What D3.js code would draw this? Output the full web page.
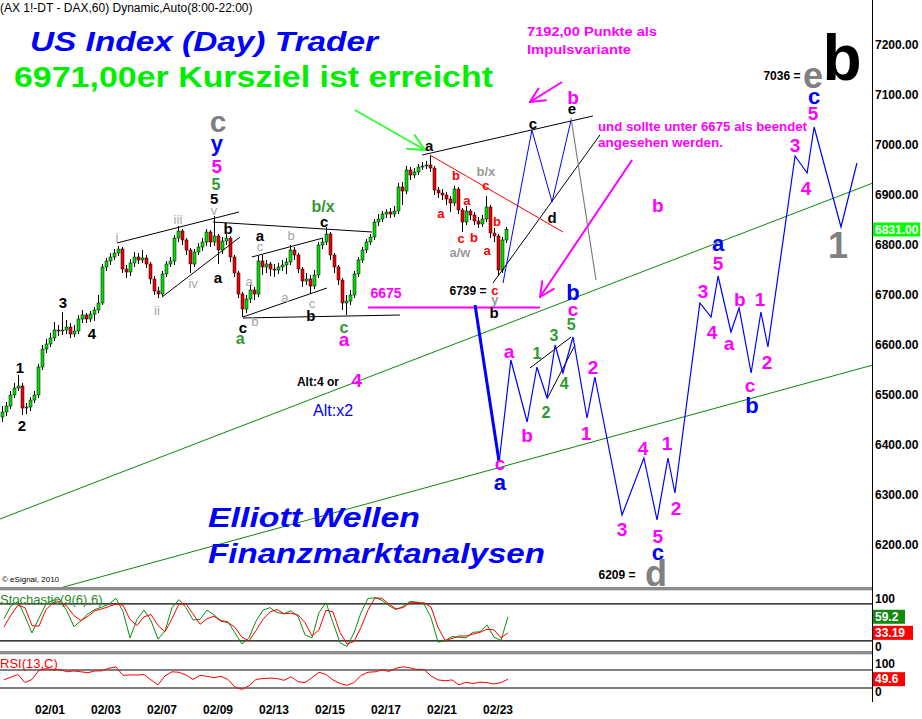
<!DOCTYPE html>
<html><head><meta charset="utf-8">
<script src="https://cdn.jsdelivr.net/npm/d3@7"></script>
<style>
html,body{margin:0;padding:0;background:#fff;}
svg{display:block;font-family:Arial,"Liberation Sans",sans-serif;}
</style>
</head><body>
<svg id="chart" width="922" height="719"></svg>
<script>
// ---- DAX 60-min bars (2-hour sampling), times in trading-day units ----
const barStart = -5 / 7;
const barStep = 1 / 7;
const firstOpen = 6456;
const closes = [
 6466,6478,6500,6514,6518,6474,6476,6490,6500,6556,
 6592,6602,6614,6630,6628,6630,6636,6622,6628,6652,
 6660,6652,6662,6670,6684,6756,6768,6776,6784,6792,
 6752,6746,6764,6776,6770,6774,6762,6732,6708,6702,
 6742,6762,6768,6814,6828,6810,6790,6762,6786,6796,
 6806,6826,6806,6818,6790,6808,6814,6776,6744,6702,
 6672,6692,6710,6702,6768,6756,6762,6752,6750,6756,
 6760,6766,6790,6780,6752,6728,6732,6718,6740,6800,
 6806,6822,6780,6756,6730,6684,6688,6700,6742,6770,
 6790,6806,6816,6846,6852,6862,6866,6862,6868,6916,
 6908,6950,6940,6946,6956,6958,6960,6954,6910,6904,
 6900,6892,6884,6912,6870,6846,6868,6860,6848,6842,
 6852,6876,6824,6818,6750,6810,6831];
const highs = [
 6478,6486,6508,6524,6540,6524,6484,6496,6508,6562,
 6600,6612,6624,6646,6640,6666,6650,6644,6640,6660,
 6670,6664,6668,6676,6700,6762,6774,6784,6792,6798,
 6796,6760,6772,6786,6784,6790,6780,6766,6738,6716,
 6748,6768,6776,6820,6838,6832,6814,6794,6792,6804,
 6814,6832,6830,6858,6822,6816,6822,6818,6780,6748,
 6706,6700,6722,6716,6778,6780,6770,6766,6762,6764,
 6770,6774,6800,6796,6784,6756,6744,6740,6750,6806,
 6814,6836,6826,6784,6760,6734,6700,6710,6748,6776,
 6796,6812,6822,6852,6862,6868,6872,6874,6878,6924,
 6926,6958,6956,6954,6962,6966,6968,6980,6958,6916,
 6912,6906,6898,6918,6916,6874,6878,6872,6866,6856,
 6860,6898,6880,6834,6822,6816,6836];
const lows = [
 6446,6458,6472,6494,6508,6460,6462,6468,6484,6494,
 6550,6584,6596,6608,6618,6620,6622,6614,6616,6622,
 6644,6644,6646,6648,6664,6680,6748,6760,6770,6778,
 6744,6734,6738,6756,6762,6764,6754,6722,6700,6694,
 6698,6736,6756,6760,6806,6800,6780,6744,6756,6780,
 6788,6798,6796,6798,6762,6782,6800,6766,6736,6694,
 6656,6664,6684,6690,6696,6740,6744,6738,6736,6742,
 6748,6742,6760,6770,6744,6716,6720,6702,6712,6734,
 6792,6800,6770,6744,6720,6670,6660,6680,6694,6736,
 6764,6784,6800,6810,6838,6846,6854,6854,6856,6862,
 6880,6902,6930,6934,6940,6950,6952,6946,6900,6894,
 6890,6880,6866,6878,6862,6826,6840,6850,6840,6834,
 6836,6846,6814,6806,6739,6744,6804];

// ---- indicators, sampled every quarter day ----
const indStart = -0.643;
const indStep = 0.25;
const stochK = [56,77,84,60,33,57,80,86,87,68,43,53,64,71,75,80,89,68,25,55,
 70,53,23,36,74,87,74,54,55,70,62,53,51,33,15,25,52,70,74,66,
 64,69,60,30,25,66,82,50,17,11,33,66,89,90,86,77,71,76,84,83,
 80,58,18,20,27,26,25,34,35,46,26,21,59.2];
const stochD = [43,62,78,74,45,44,71,82,84,76,61,53,60,69,72,76,80,78,55,45,
 59,63,45,35,56,80,80,64,47,56,60,52,50,42,26,20,37,55,67,71,
 64,65,62,50,28,38,70,67,34,15,19,42,70,90,89,80,72,74,82,82,
 82,75,42,21,24,28,28,31,34,39,38,25,33.19];
const rsi = [48.5,54,60,42,49,70,73,71,71,66,68,66,64,68,68,74,77,58,59,59,
 60,48,37,57,66,65,59,49,58,56,53,56,49,32,27,35,49,51,52,51,
 47,55,44,42,53,65,60,48,40,36,42,58,65,66,70,67,74,77,75,71,
 71,57,48,46,48,37,43,40,43,42,39,42,49.6];

// ---- axes ----
const dayTicks = [1,3,5,7,9,11,13,15,17];
const dayLabels = ["02/01","02/03","02/07","02/09","02/13","02/15","02/17","02/21","02/23"];
const priceTicks = [6200,6300,6400,6500,6600,6700,6800,6900,7000,7100,7200];
const lastPrice = 6831;
const stochLevels = [20,80];
const rsiLevels = [30,70];

// ---- Elliott wave projections [day, price] ----
const triangleWave = [[17.18,6724],[18.21,7030],[18.93,6886],[19.61,7050]];
const triangleDrop = [[19.61,7054],[20.5,6730]];
const impulseDrop = [[16.18,6680],[17.04,6366]];
const forecastWave = [
 [17.04,6366],[17.46,6570],[18.04,6446],[18.39,6556],[18.75,6494],[19.04,6600],
 [19.32,6544],[19.68,6616],[20.18,6454],[20.46,6536],[21.43,6260],[22.21,6374],
 [22.68,6250],[23.07,6374],[23.32,6304],[24.21,6684],[24.61,6656],[24.86,6738],
 [25.32,6626],[25.61,6674],[26.04,6544],[26.39,6666],[26.64,6596],[27.61,6978],
 [28.04,6944],[28.29,7036],[29.25,6836],[29.82,6964]];

// ---- trend lines ----
const blackLines = [
 [[3.39,6804],[7.75,6866]],
 [[5.0,6696],[7.79,6816]],
 [[6.82,6846],[12.5,6826]],
 [[8.21,6776],[10.75,6814]],
 [[7.89,6656],[10.89,6714]],
 [[7.89,6654],[13.5,6660]],
 [[14.29,6980],[20.39,7058]],
 [[16.82,6724],[20.64,7020]],
 [[18.14,6554],[19.61,6616]],
 [[18.75,6492],[19.75,6600]]];
const redLine = [[14.57,6980],[19.32,6826]];
const channelUpper = [[-0.79,6252],[30.39,6924]];
const channelLower = [[-0.79,6081],[30.39,6560]];
const invalidLevel = [[12.36,6675],[18.5,6675]];
const magentaArrows = [
 [[19.29,7126],[18.14,7086]],
 [[21.79,6970],[18.5,6696]]];
const greenArrow = [[11.89,7070],[14.39,6990]];

// ---- wave labels: text, day, price, style ----
const waveLabels = [
 ["1",-0.07,6556,"blk"],["2",0,6440,"blk"],["3",1.46,6686,"blk"],["4",2.5,6624,"blk"],
 ["i",3.39,6816,"rom"],["ii",4.82,6670,"rom"],["iii",5.57,6852,"rom"],["iv",6.11,6724,"rom"],["v",6.86,6870,"rom"],
 ["5",6.86,6894,"blk"],["5",6.93,6922,"grn"],["5",6.96,6958,"mag"],["y",6.96,7004,"blu"],["c",7.0,7048,"gryM"],
 ["b",7.36,6834,"blk"],["a",7.0,6736,"blk"],["c",7.89,6636,"blk"],["a",7.79,6614,"grn"],
 ["a",8.5,6820,"blk"],["c",8.5,6798,"rom"],["b",9.61,6820,"rom"],["a",8.11,6728,"rom"],
 ["b",8.32,6648,"rom"],["a",9.39,6696,"rom"],["c",10.36,6684,"rom"],["b",10.32,6660,"blk"],
 ["b/x",10.75,6878,"grn"],["c",10.79,6848,"blk"],["c",11.5,6636,"grn"],["a",11.5,6612,"mag"],
 ["a",14.54,7000,"blk"],["b",15.5,6940,"red"],["a",14.96,6864,"red"],["a",15.89,6890,"red"],
 ["c",15.68,6814,"red"],["b",16.14,6816,"red"],["a/w",15.64,6786,"gryS"],["b/x",16.57,6948,"gryS"],
 ["c",16.57,6920,"red"],["b",16.96,6848,"red"],["a",16.61,6790,"red"],
 ["c",18.25,7044,"blk"],["d",18.93,6856,"blk"],["e",19.64,7074,"blk"],
 ["c",16.89,6710,"red"],["y",16.89,6692,"gryS"],["b",16.86,6666,"blk"],
 ["b",19.68,6706,"blu"],["c",19.68,6672,"mag"],["b",19.68,7096,"mag"],
 ["a",17.39,6588,"mag"],["b",18.04,6420,"mag"],
 ["1",18.39,6584,"grn"],["2",18.71,6466,"grn"],["3",19.0,6620,"grn"],["4",19.36,6524,"grn"],["5",19.61,6642,"grn"],
 ["2",20.39,6556,"mag"],["1",20.14,6424,"mag"],["3",21.43,6232,"mag"],["4",22.18,6394,"mag"],
 ["5",22.71,6218,"mag"],["c",22.71,6186,"blu"],["d",22.64,6144,"gryL"],
 ["1",23.04,6404,"mag"],["2",23.36,6274,"mag"],["c",17.07,6364,"mag"],["a",17.07,6326,"blu"],
 ["3",24.32,6708,"mag"],["4",24.64,6626,"mag"],["a",25.25,6604,"mag"],["b",25.64,6692,"mag"],
 ["1",26.36,6692,"mag"],["2",26.61,6566,"mag"],["c",26.0,6520,"mag"],["b",26.07,6480,"blu"],
 ["a",24.86,6804,"blu"],["5",24.86,6764,"mag"],
 ["3",27.61,7000,"mag"],["4",28.0,6914,"mag"],["5",28.25,7064,"mag"],["c",28.29,7098,"blu"],
 ["e",28.25,7140,"gryL"],["b",29.29,7174,"huge"],["1",29.14,6800,"gryL"],
 ["b",22.71,6880,"mag"],
 ["6739 =",15.93,6708,"blkS"],["6209 =",21.25,6140,"blkS"],["7036 =",27.14,7138,"blkS"],
 ["6675",13.0,6704,"magS"],
 ["Alt:4 or",10.57,6526,"blkS"],["4",11.96,6530,"mag"],["Alt:x2",11.11,6470,"bluS"]];

const labelStyle = {
 blk:{fill:"#000",size:15,weight:"bold"},
 blkS:{fill:"#000",size:12,weight:"bold"},
 rom:{fill:"#a6a6a6",size:13,weight:"normal"},
 red:{fill:"#ff0000",size:13,weight:"bold"},
 grn:{fill:"#2f9a2f",size:16,weight:"bold"},
 mag:{fill:"#ff00ff",size:19,weight:"bold"},
 magS:{fill:"#ff00ff",size:14,weight:"bold"},
 blu:{fill:"#0000ff",size:22,weight:"bold"},
 bluS:{fill:"#0000ff",size:16,weight:"normal"},
 gryS:{fill:"#999999",size:13,weight:"bold"},
 gryM:{fill:"#808080",size:30,weight:"bold"},
 gryL:{fill:"#808080",size:36,weight:"bold"},
 huge:{fill:"#000",size:64,weight:"bold"}
};

// ---- layout ----
const axisX = 872;
const mainBottom = 587;
const svg = d3.select("#chart");
const x = d3.scaleLinear().domain([0, 30]).range([22, 862]);
const y = d3.scaleLinear().domain([6200, 7200]).range([545, 45]);
const yS = d3.scaleLinear().domain([0, 100]).range([653.3, 591.6]);
const yR = d3.scaleLinear().domain([0, 100]).range([701.5, 656.5]);
const line = d3.line().x(d => x(d[0])).y(d => y(d[1]));

svg.append("rect").attr("width", 922).attr("height", 719).attr("fill", "#fff");

const defs = svg.append("defs");
defs.append("clipPath").attr("id", "mainClip")
  .append("rect").attr("x", 0).attr("y", 0).attr("width", axisX).attr("height", mainBottom);

const main = svg.append("g").attr("clip-path", "url(#mainClip)");

// channel lines
[channelUpper, channelLower].forEach(l =>
  main.append("path").attr("d", line(l)).attr("stroke", "#0a8a0a").attr("stroke-width", 1).attr("fill", "none"));

// candles
const bars = closes.map((c, i) => ({
  t: barStart + i * barStep,
  o: i === 0 ? firstOpen : closes[i - 1],
  c, h: highs[i], l: lows[i]
}));
const candle = main.append("g");
candle.selectAll("line.wick").data(bars).join("line")
  .attr("x1", d => Math.round(x(d.t)) + 0.5).attr("x2", d => Math.round(x(d.t)) + 0.5)
  .attr("y1", d => y(d.h)).attr("y2", d => y(d.l))
  .attr("stroke", "#000").attr("stroke-width", 1);
candle.selectAll("rect").data(bars).join("rect")
  .attr("x", d => Math.round(x(d.t)) - 1)
  .attr("y", d => y(Math.max(d.o, d.c)))
  .attr("width", 3)
  .attr("height", d => Math.max(1, Math.abs(y(d.o) - y(d.c))))
  .attr("fill", d => d.c >= d.o ? "#00e000" : "#f00000")
  .attr("stroke", "#000").attr("stroke-width", 0.5);

// trend lines
blackLines.forEach(l => main.append("path").attr("d", line(l))
  .attr("stroke", "#000").attr("stroke-width", 1).attr("fill", "none"));
main.append("path").attr("d", line(redLine)).attr("stroke", "#ff0000").attr("stroke-width", 1).attr("fill", "none");
main.append("path").attr("d", line(triangleDrop)).attr("stroke", "#808080").attr("stroke-width", 1.2).attr("fill", "none");
main.append("path").attr("d", line(invalidLevel)).attr("stroke", "#ff00ff").attr("stroke-width", 2).attr("fill", "none");

// projected waves
main.append("path").attr("d", line(triangleWave)).attr("stroke", "#0000ff").attr("stroke-width", 1).attr("fill", "none");
main.append("path").attr("d", line(impulseDrop)).attr("stroke", "#0000ff").attr("stroke-width", 3).attr("fill", "none");
main.append("path").attr("d", line(forecastWave)).attr("stroke", "#0000ff").attr("stroke-width", 1.2)
  .attr("fill", "none").attr("stroke-linejoin", "miter");

// arrows with open V heads
function arrow(pts, color, width, head) {
  main.append("path").attr("d", line(pts)).attr("stroke", color).attr("stroke-width", width).attr("fill", "none");
  const x0 = x(pts[0][0]), y0 = y(pts[0][1]), x1 = x(pts[1][0]), y1 = y(pts[1][1]);
  const a = Math.atan2(y1 - y0, x1 - x0);
  [0.45, -0.45].forEach(da => {
    main.append("line")
      .attr("x1", x1).attr("y1", y1)
      .attr("x2", x1 - head * Math.cos(a + da)).attr("y2", y1 - head * Math.sin(a + da))
      .attr("stroke", color).attr("stroke-width", width).attr("stroke-linecap", "round");
  });
}
magentaArrows.forEach(p => arrow(p, "#ff00ff", 2, 16));
arrow(greenArrow, "#33ff33", 2, 18);

// wave labels
svg.append("g").selectAll("text").data(waveLabels).join("text")
  .attr("x", d => x(d[1])).attr("y", d => y(d[2]))
  .attr("text-anchor", "middle").attr("dominant-baseline", "central")
  .attr("fill", d => labelStyle[d[3]].fill)
  .attr("font-size", d => labelStyle[d[3]].size)
  .attr("font-weight", d => labelStyle[d[3]].weight)
  .text(d => d[0]);

// titles and notes
const texts = svg.append("g");
texts.append("text").attr("x", 0).attr("y", 12).attr("font-size", 12).attr("fill", "#000")
  .text("(AX 1!-DT - DAX,60) Dynamic,Auto(8:00-22:00)");
texts.append("text").attr("x", 30).attr("y", 51).attr("font-size", 27).attr("font-weight", "bold")
  .attr("font-style", "italic").attr("fill", "#0000ff")
  .attr("textLength", 348).attr("lengthAdjust", "spacingAndGlyphs").text("US Index (Day) Trader");
texts.append("text").attr("x", 14).attr("y", 87).attr("font-size", 30).attr("font-weight", "bold")
  .attr("fill", "#00ee00")
  .attr("textLength", 479).attr("lengthAdjust", "spacingAndGlyphs").text("6971,00er Kursziel ist erreicht");
texts.append("text").attr("x", 208).attr("y", 527).attr("font-size", 28).attr("font-weight", "bold")
  .attr("font-style", "italic").attr("fill", "#0000ff")
  .attr("textLength", 212).attr("lengthAdjust", "spacingAndGlyphs").text("Elliott Wellen");
texts.append("text").attr("x", 208).attr("y", 563).attr("font-size", 28).attr("font-weight", "bold")
  .attr("font-style", "italic").attr("fill", "#0000ff")
  .attr("textLength", 337).attr("lengthAdjust", "spacingAndGlyphs").text("Finanzmarktanalysen");
[["7192,00 Punkte als", 527, 36, 130], ["Impulsvariante", 527, 54, 104],
 ["und sollte unter 6675 als beendet", 598, 131, 209], ["angesehen werden.", 598, 147, 125]]
  .forEach(n => texts.append("text").attr("x", n[1]).attr("y", n[2]).attr("font-size", 13.5)
    .attr("font-weight", "bold").attr("fill", "#ff00ff")
    .attr("textLength", n[3]).attr("lengthAdjust", "spacingAndGlyphs").text(n[0]));
texts.append("text").attr("x", 2).attr("y", 582).attr("font-size", 8).attr("fill", "#000").text("\u00a9 eSignal, 2010");

// panel separators
[mainBottom, 651].forEach(sy => {
  svg.append("rect").attr("x", 0).attr("y", sy).attr("width", axisX).attr("height", 3).attr("fill", "#8c8c8c");
  svg.append("line").attr("x1", 0).attr("x2", axisX).attr("y1", sy + 3.5).attr("y2", sy + 3.5).attr("stroke", "#d8d8d8");
});
svg.append("line").attr("x1", axisX + 0.5).attr("x2", axisX + 0.5).attr("y1", 0).attr("y2", 702)
  .attr("stroke", "#000").attr("stroke-width", 1);

// price axis
const axisG = svg.append("g").attr("font-size", 12).attr("font-weight", "bold");
axisG.selectAll("text").data(priceTicks).join("text")
  .attr("x", axisX + 3).attr("y", d => y(d)).attr("dominant-baseline", "central")
  .attr("fill", "#000").text(d => d3.format(".2f")(d));

function valueBox(v, yy, bg, w) {
  svg.append("rect").attr("x", axisX + 1).attr("y", yy - 7).attr("width", w).attr("height", 14).attr("fill", bg);
  svg.append("text").attr("x", axisX + 3).attr("y", yy).attr("dominant-baseline", "central")
    .attr("font-size", 12).attr("font-weight", "bold").attr("fill", "#fff").text(v);
}
valueBox(d3.format(".2f")(lastPrice), y(lastPrice), "#00ff00", 47);

// stochastic panel
const ix = (d, i) => x(indStart + i * indStep);
stochLevels.forEach(v => svg.append("line").attr("x1", 0).attr("x2", axisX).attr("y1", yS(v)).attr("y2", yS(v))
  .attr("stroke", "#000").attr("stroke-width", 1.2));
svg.append("path").attr("d", d3.line().x(ix).y(d => yS(d))(stochK))
  .attr("stroke", "#108a10").attr("stroke-width", 1).attr("fill", "none");
svg.append("path").attr("d", d3.line().x(ix).y(d => yS(d))(stochD))
  .attr("stroke", "#ff0000").attr("stroke-width", 1).attr("fill", "none");
svg.append("text").attr("x", 0).attr("y", 604).attr("font-size", 13).attr("fill", "#2a8a2a").text("Stochastic(9(6),6)");
[["100", 599], ["0", 647]].forEach(t => svg.append("text").attr("x", axisX + 3).attr("y", t[1])
  .attr("dominant-baseline", "central").attr("font-size", 12).attr("font-weight", "bold").text(t[0]));
valueBox(String(stochK[stochK.length - 1]), yS(stochK[stochK.length - 1]), "#108a10", 32);
valueBox(String(stochD[stochD.length - 1]), yS(stochD[stochD.length - 1]), "#ff0000", 40);

// RSI panel
rsiLevels.forEach(v => svg.append("line").attr("x1", 0).attr("x2", axisX).attr("y1", yR(v)).attr("y2", yR(v))
  .attr("stroke", "#000").attr("stroke-width", 1.2));
svg.append("path").attr("d", d3.line().x(ix).y(d => yR(d))(rsi))
  .attr("stroke", "#ff0000").attr("stroke-width", 1).attr("fill", "none");
svg.append("text").attr("x", 0).attr("y", 668).attr("font-size", 13).attr("fill", "#ff0000").text("RSI(13,C)");
[["100", 664], ["0", 692]].forEach(t => svg.append("text").attr("x", axisX + 3).attr("y", t[1])
  .attr("dominant-baseline", "central").attr("font-size", 12).attr("font-weight", "bold").text(t[0]));
valueBox(String(rsi[rsi.length - 1]), yR(rsi[rsi.length - 1]), "#ff0000", 32);

// date axis
svg.append("g").selectAll("text").data(dayTicks).join("text")
  .attr("x", d => x(d)).attr("y", 710).attr("text-anchor", "middle").attr("dominant-baseline", "central")
  .attr("font-size", 12).attr("font-weight", "bold").text((d, i) => dayLabels[i]);
</script>
</body></html>
